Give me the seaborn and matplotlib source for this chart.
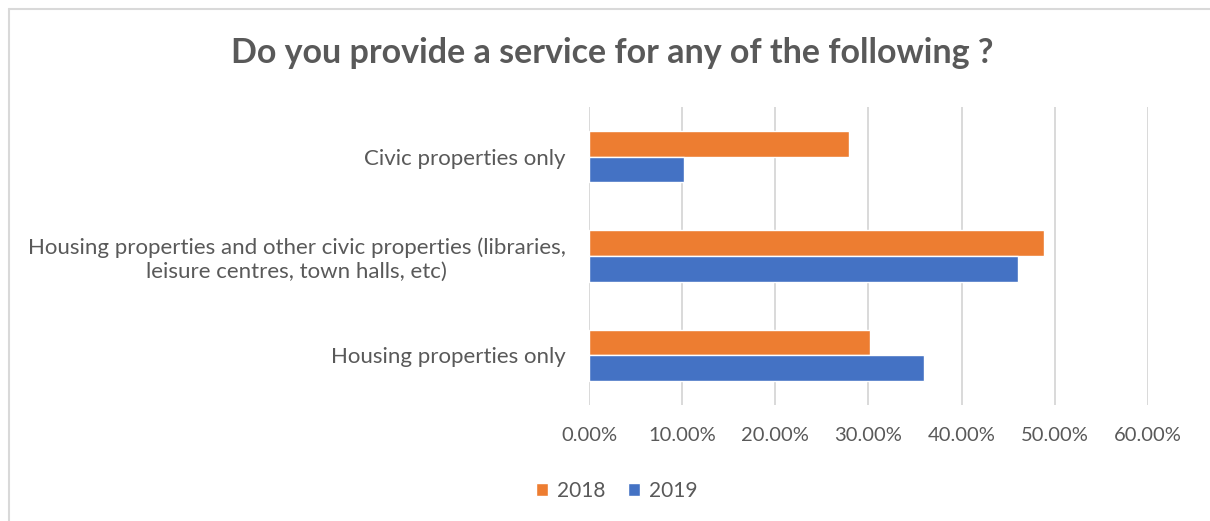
import matplotlib
matplotlib.use("Agg")
import matplotlib.pyplot as plt
from matplotlib.lines import Line2D
from matplotlib.ticker import FuncFormatter
import seaborn as sns
import pandas as pd

# Survey answers: share of respondents per service type and year
categories = [
    "Civic properties only",
    "Housing properties and other civic properties (libraries,\nleisure centres, town halls, etc)",
    "Housing properties only",
]
years = ["2018", "2019"]
share_2018 = [0.279, 0.489, 0.302]
share_2019 = [0.102, 0.461, 0.360]
x_ticks = [0.0, 0.1, 0.2, 0.3, 0.4, 0.5, 0.6]

df = pd.DataFrame({
    "category": categories * 2,
    "year": [years[0]] * 3 + [years[1]] * 3,
    "share": share_2018 + share_2019,
})

sns.set_theme(style="white")
plt.rcParams["font.family"] = ["Lato", "DejaVu Sans"]

TEXT = "#595959"
GRID = "#d9d9d9"
palette = {"2018": "#ED7D31", "2019": "#4472C4"}

fig = plt.figure(figsize=(12.1, 5.21), dpi=100)
fig.patch.set_facecolor("white")
ax = fig.add_axes([589 / 1210, 1 - 405 / 521, (1147.8 - 589) / 1210, (405 - 107) / 521])

sns.barplot(
    data=df, y="category", x="share", hue="year",
    order=categories, hue_order=years, palette=palette,
    orient="h", width=0.52, saturation=1, ax=ax, legend=True,
)

ax.set_xlim(0, 0.6)
ax.set_xticks(x_ticks)
ax.xaxis.set_major_formatter(FuncFormatter(lambda v, _: f"{v * 100:.2f}%"))
ax.grid(axis="x", color=GRID, linewidth=1.4)
ax.grid(axis="y", visible=False)
ax.set_axisbelow(True)
for s in ax.spines.values():
    s.set_visible(False)
ax.set_xlabel("")
ax.set_ylabel("")
ax.tick_params(axis="x", length=0, pad=16, labelsize=14.5, labelcolor=TEXT)
ax.tick_params(axis="y", length=0, pad=17, labelsize=16, labelcolor=TEXT)
for lbl in ax.get_yticklabels():
    lbl.set_multialignment("center")

handles, labels = ax.get_legend_handles_labels()
ax.get_legend().remove()
fig.legend(
    handles, labels, loc="center", bbox_to_anchor=(617 / 1210, 1 - 491 / 521),
    ncol=2, frameon=False, fontsize=15, labelcolor=TEXT,
    handlelength=0.55, handleheight=0.55, handletextpad=0.45, columnspacing=1.1,
)

fig.text(612 / 1210, 1 - 53 / 521, "Do you provide a service for any of the following ?",
         ha="center", va="center", fontsize=24.5, fontweight="bold", color=TEXT)

# Light chart-area border along the top and left edges
fig.add_artist(Line2D([9 / 1210, 1], [1 - 9 / 521, 1 - 9 / 521], transform=fig.transFigure,
                      color=GRID, linewidth=1.5))
fig.add_artist(Line2D([9 / 1210, 9 / 1210], [0, 1 - 9 / 521], transform=fig.transFigure,
                      color=GRID, linewidth=1.5))

fig.savefig("out.png", dpi=100, facecolor="white")
